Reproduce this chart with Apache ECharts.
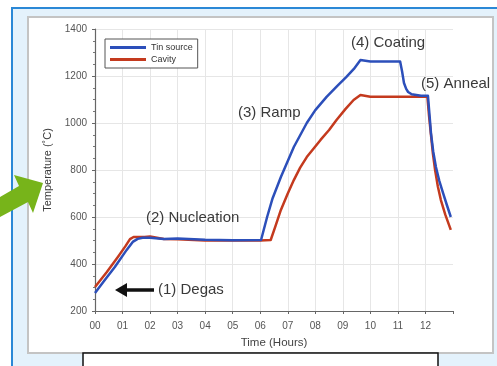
<!DOCTYPE html>
<html><head><meta charset="utf-8">
<script src="https://cdn.jsdelivr.net/npm/echarts@6/dist/echarts.min.js"></script>
<style>html,body{margin:0;padding:0;background:#fff;}#c{width:497px;height:366px;}</style>
</head><body><div id="c"></div>
<script>
// Tin source (hours, °C)
const tinSource = [[0,277],[0.3,323],[0.72,387],[1.15,460],[1.37,494],[1.55,507],[1.73,512],[2,512],[2.5,506],[3,508],[4,503],[5,501],[6.03,502],[6.25,600],[6.45,680],[6.75,770],[7.22,898],[7.69,1000],[8.0,1055],[8.41,1111],[8.8,1158],[9.13,1196],[9.4,1230],[9.64,1268],[10,1262],[10.5,1262],[11.08,1262],[11.15,1220],[11.22,1170],[11.3,1145],[11.37,1132],[11.5,1122],[11.84,1116],[12.09,1116],[12.15,1030],[12.2,957],[12.28,880],[12.38,813],[12.5,755],[12.64,702],[12.78,650],[12.92,600]];
// Cavity (hours, °C)
const cavity = [[0,302],[0.43,366],[0.83,430],[1.1,475],[1.27,506],[1.4,515],[1.8,515],[2,517],[2.5,506],[3,505],[4,500],[5,500],[6,500],[6.38,502],[6.55,560],[6.75,630],[7.0,700],[7.22,757],[7.45,810],[7.69,855],[8.19,928],[8.5,970],[8.77,1013],[9.1,1060],[9.39,1098],[9.64,1119],[10,1112],[11,1112],[12.07,1112],[12.13,1030],[12.2,950],[12.27,870],[12.35,800],[12.45,730],[12.56,672],[12.72,610],[12.92,545]];
const xTickLabels = ['00','01','02','03','04','05','06','07','08','09','10','11','12'];
const yTicks = [200,400,600,800,1000,1200,1400];
const seriesNames = ['Tin source','Cavity'];
const annotations = [
  {text:'(1) Degas', x:158, y:290},
  {text:'(2) Nucleation', x:146, y:218},
  {text:'(3) Ramp', x:238, y:113},
  {text:'(4) Coating', x:351, y:43},
  {text:'(5) Anneal', x:421, y:84}
];

const chart = echarts.init(document.getElementById('c'));
const splitColors = xTickLabels.map(()=>'#e6e6e6').concat(['rgba(0,0,0,0)']);
const txtFont = 'Liberation Sans';
const graphics = [
  {type:'rect', z:-10, shape:{x:12,y:8,width:490,height:362}, style:{fill:'#e4f2fc'}},
  {type:'line', z:-9, shape:{x1:11,y1:8,x2:497,y2:8}, style:{stroke:'#2a88d6',lineWidth:2}},
  {type:'line', z:-9, shape:{x1:12,y1:8,x2:12,y2:366}, style:{stroke:'#2a88d6',lineWidth:2}},
  {type:'rect', z:-8, shape:{x:28,y:17,width:465,height:336}, style:{fill:'#ffffff',stroke:'#c4c4c4',lineWidth:2}},
  {type:'rect', z:50, shape:{x:83,y:353,width:355,height:20}, style:{fill:'#ffffff',stroke:'#111',lineWidth:1.5}},
  {type:'polygon', z:60, shape:{points:[[0,197],[19,186],[14,175],[43,183],[33,213],[28,202],[0,217]]}, style:{fill:'#77b41a'}},
  {type:'line', z:20, shape:{x1:122,y1:290,x2:154,y2:290}, style:{stroke:'#111',lineWidth:3.5}},
  {type:'polygon', z:20, shape:{points:[[115,290],[127,283],[127,297]]}, style:{fill:'#111'}}
];
annotations.forEach(a=>graphics.push({type:'text', z:20, x:a.x, y:a.y, style:{text:a.text, fill:'#3a3a3a', font:'15px '+txtFont, textVerticalAlign:'middle'}}));

chart.setOption({
  animation:false,
  textStyle:{fontFamily:txtFont},
  grid:{left:95,right:44,top:29,bottom:55},
  legend:{
    data:seriesNames, orient:'vertical', left:105, top:39,
    icon:'rect', itemWidth:36, itemHeight:3, itemGap:3,
    padding:[4,5], borderColor:'#555', borderWidth:1, backgroundColor:'#fff',
    textStyle:{fontSize:9,color:'#333',fontFamily:txtFont}
  },
  xAxis:{
    type:'value', min:0, max:13, interval:1,
    name:'Time (Hours)', nameLocation:'middle', nameGap:26,
    nameTextStyle:{fontSize:11.5,color:'#444'},
    axisLine:{lineStyle:{color:'#666',width:1.2}},
    axisTick:{length:3,lineStyle:{color:'#666'}},
    axisLabel:{fontSize:10,color:'#555',margin:10,formatter:v=>xTickLabels[v]!==undefined?xTickLabels[v]:''},
    splitLine:{show:true,lineStyle:{color:splitColors,width:1}}
  },
  yAxis:{
    type:'value', min:200, max:1400, interval:200,
    name:'Temperature (˚C)', nameLocation:'middle', nameGap:35,
    nameTextStyle:{fontSize:11,color:'#3a3a3a'},
    axisLine:{show:true,lineStyle:{color:'#666',width:1.2}},
    axisTick:{show:true,length:3,lineStyle:{color:'#666'}},
    minorTick:{show:true,splitNumber:4,length:2,lineStyle:{color:'#777'}},
    axisLabel:{fontSize:10,color:'#555',margin:8,formatter:v=>yTicks.includes(v)?String(v):''},
    splitLine:{show:true,lineStyle:{color:'#e6e6e6',width:1}}
  },
  graphic:graphics,
  series:[
    {name:seriesNames[0], type:'line', data:tinSource, symbol:'none', lineStyle:{color:'#2c4fba',width:2.5,join:'round'}, itemStyle:{color:'#2c4fba'}, z:4},
    {name:seriesNames[1], type:'line', data:cavity, symbol:'none', lineStyle:{color:'#c43a1e',width:2.5,join:'round'}, itemStyle:{color:'#c43a1e'}, z:3}
  ]
});
</script></body></html>
